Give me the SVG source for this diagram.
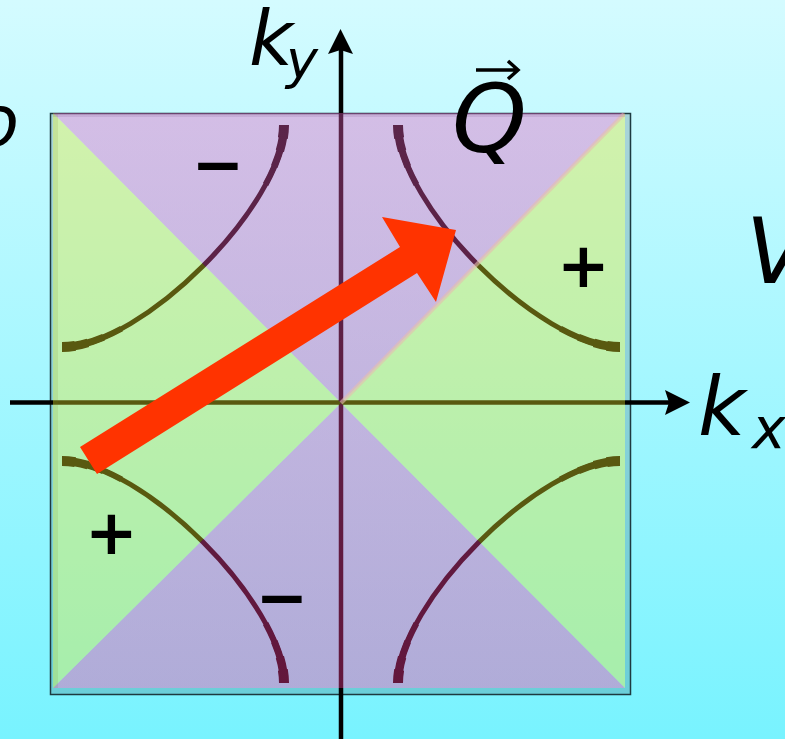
<svg xmlns="http://www.w3.org/2000/svg" width="785" height="739" viewBox="0 0 785 739">
  <defs>
    <linearGradient id="bg" x1="0" y1="0" x2="0" y2="1">
      <stop offset="0" stop-color="#d4fbff"/>
      <stop offset="1" stop-color="#78f3ff"/>
    </linearGradient>
    <linearGradient id="pg" gradientUnits="userSpaceOnUse" x1="0" y1="113" x2="0" y2="688">
      <stop offset="0" stop-color="rgb(233,96,191)"/>
      <stop offset="1" stop-color="rgb(254,59,155)"/>
    </linearGradient>
    <style>
      .axis { stroke: #000; stroke-width: 4.5; fill: none; }
      .curve { stroke: #000; stroke-width: 5; fill: none; }
      .end1 { stroke: #000; stroke-width: 10; fill: none; stroke-dasharray: 4 92 4; }
      .end2 { stroke: #000; stroke-width: 8.5; fill: none; stroke-dasharray: 8 84 8; }
      .end3 { stroke: #000; stroke-width: 7; fill: none; stroke-dasharray: 13 74 13; }
      .end4 { stroke: #000; stroke-width: 6; fill: none; stroke-dasharray: 19 62 19; }
      .purple { fill: url(#pg); fill-opacity: 0.39; }
      .green { fill: rgb(230,230,41); fill-opacity: 0.39; }
      .lbl { font-family: "DejaVu Sans", "Liberation Sans", sans-serif; font-style: italic; fill: #000; }
      .sign { font-family: "DejaVu Sans", "Liberation Sans", sans-serif; font-weight: bold; fill: #000; font-size: 63px; text-anchor: middle; }
    </style>
  </defs>

  <rect id="background" x="0" y="0" width="785" height="739" fill="url(#bg)"/>

  <g id="frame">
    <path d="M50.5,113.5 H630.5 V694.5 H50.5 Z M53,113.5 V688 H625 V113.5 Z" fill="#000" fill-opacity="0.15" fill-rule="evenodd"/>
    <rect x="50.5" y="113.5" width="580" height="581" fill="none" stroke="#1e3a40" stroke-width="1.5"/>
  </g>

  <g id="axes">
    <line class="axis" x1="10" y1="402.5" x2="670" y2="402.5"/>
    <line class="axis" x1="341" y1="739" x2="341" y2="50"/>
    <path d="M690,402.5 L665,390 L669,402.5 L665,415 Z" fill="#000"/>
    <path d="M340.5,29 L328,54 L340.5,50 L353,54 Z" fill="#000"/>
  </g>

  <g id="fermi-surface">
    <path id="fs1" class="curve" d="M284,125 C284,205 142,347 62,347"/>
    <path id="fs2" class="curve" d="M398,125 C398,205 540,347 620,347"/>
    <path id="fs3" class="curve" d="M284,683 C284,603 142,461 62,461"/>
    <path id="fs4" class="curve" d="M398,683 C398,603 540,461 620,461"/>
    <g class="end1">
      <path pathLength="100" d="M284,125 C284,205 142,347 62,347"/>
      <path pathLength="100" d="M398,125 C398,205 540,347 620,347"/>
      <path pathLength="100" d="M284,683 C284,603 142,461 62,461"/>
      <path pathLength="100" d="M398,683 C398,603 540,461 620,461"/>
    </g>
    <g class="end2">
      <path pathLength="100" d="M284,125 C284,205 142,347 62,347"/>
      <path pathLength="100" d="M398,125 C398,205 540,347 620,347"/>
      <path pathLength="100" d="M284,683 C284,603 142,461 62,461"/>
      <path pathLength="100" d="M398,683 C398,603 540,461 620,461"/>
    </g>
    <g class="end3">
      <path pathLength="100" d="M284,125 C284,205 142,347 62,347"/>
      <path pathLength="100" d="M398,125 C398,205 540,347 620,347"/>
      <path pathLength="100" d="M284,683 C284,603 142,461 62,461"/>
      <path pathLength="100" d="M398,683 C398,603 540,461 620,461"/>
    </g>
    <g class="end4">
      <path pathLength="100" d="M284,125 C284,205 142,347 62,347"/>
      <path pathLength="100" d="M398,125 C398,205 540,347 620,347"/>
      <path pathLength="100" d="M284,683 C284,603 142,461 62,461"/>
      <path pathLength="100" d="M398,683 C398,603 540,461 620,461"/>
    </g>
  </g>

  <g id="zone">
    <polygon class="purple" points="53,113 625,113 341,403"/>
    <polygon class="purple" points="53,688 625,688 341,403"/>
    <polygon class="green" points="53,113 53,688 341,403"/>
    <polygon class="green" points="625,113 625,688 341,403"/>
    <line x1="341" y1="403" x2="624" y2="114" stroke="rgb(230,190,175)" stroke-opacity="0.6" stroke-width="4"/>
    <rect x="53" y="113" width="5" height="575" fill="#6a7a10" fill-opacity="0.12"/>
    <rect x="53" y="113" width="572" height="4" fill="#4a1a5a" fill-opacity="0.1"/>
  </g>

  <g id="Q-arrow">
    <polygon points="80,447 400,247 382,217 456,230 436,302 417,273 97,474" fill="#ff3300"/>
  </g>

  <g id="labels">
    <text class="lbl" x="249" y="65" font-size="76">k</text>
    <text class="lbl" x="286" y="78" font-size="54">y</text>
    <text class="lbl" x="698" y="435" font-size="82">k</text>
    <text class="lbl" x="752" y="448" font-size="57">x</text>
    <text class="lbl" x="452" y="152" font-size="95">Q</text>
    <path d="M476,70 H517 M508,61 L518,70 L508,79" stroke="#000" stroke-width="3.5" fill="none"/>
    <text class="lbl" x="746" y="283" font-size="90">V</text>
    <text class="lbl" x="-25" y="146" font-size="72">o</text>
    <text class="sign" x="583.5" y="287">+</text>
    <text class="sign" x="111.5" y="554">+</text>
    <text class="sign" x="218" y="186">−</text>
    <text class="sign" x="282" y="619">−</text>
  </g>
</svg>
